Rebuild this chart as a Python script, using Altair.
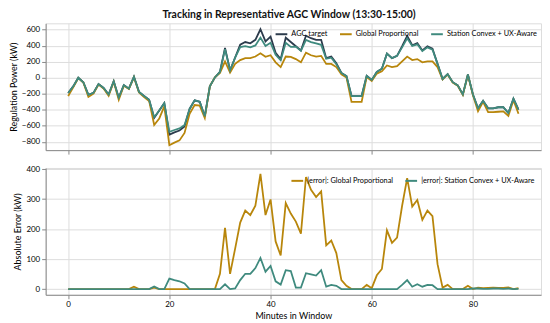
import altair as alt
import pandas as pd

minutes = list(range(90))

agc_target = [-190, -108, 0, -56, -215, -189, -80, -128, -209, -44,
              -249, -92, -136, 12, -177, -229, -277, -502, -410, -317,
              -711, -683, -659, -610, -390, -281, -301, -482, -108, 4,
              72, 373, 92, 253, 414, 446, 430, 474, 606, 454,
              514, 313, 233, 500, 446, 394, 341, 526, 494, 474,
              474, 245, 265, 181, 60, 20, -229, -229, -229, 24,
              -28, 72, 112, 301, 245, 273, 394, 522, 406, 434,
              341, 394, 365, 173, -16, 44, -56, -96, -209, 40,
              -209, -382, -289, -382, -382, -369, -369, -442, -261, -398]

global_prop = [-230, -120, -5, -60, -240, -200, -85, -135, -225, -50,
               -275, -100, -140, 5, -185, -240, -290, -590, -510, -357,
               -843, -811, -783, -690, -450, -341, -349, -502, -108, 4,
               60, 205, 64, 173, 221, 245, 245, 265, 305, 261,
               281, 193, 133, 265, 261, 233, 193, 313, 281, 265,
               273, 173, 173, 133, 44, 4, -301, -301, -301, 10,
               -40, 52, 80, 153, 133, 145, 205, 265, 221, 233,
               193, 205, 205, 133, -20, 40, -60, -100, -215, 35,
               -220, -418, -300, -430, -430, -425, -420, -478, -281, -450]

station_convex = [-190, -108, 0, -56, -215, -189, -80, -128, -209, -44,
                  -249, -92, -136, 12, -177, -229, -277, -493, -410, -317,
                  -676, -653, -633, -591, -390, -281, -301, -482, -108, 4,
                  72, 357, 92, 251, 384, 395, 379, 404, 502, 396,
                  437, 287, 218, 437, 386, 389, 336, 473, 445, 429,
                  411, 237, 251, 170, 60, 20, -229, -229, -229, 24,
                  -28, 72, 112, 301, 245, 273, 380, 492, 398, 418,
                  333, 380, 352, 173, -16, 44, -56, -96, -209, 40,
                  -209, -382, -289, -382, -382, -369, -369, -442, -261, -398]

err_global = [0, 0, 0, 0, 0, 0, 0, 0, 0, 0,
              0, 0, 0, 8, 0, 0, 0, 5, 0, 0,
              0, 0, 0, 0, 0, 0, 0, 0, 0, 0,
              51, 204, 51, 135, 222, 262, 247, 278, 384, 247,
              299, 159, 112, 287, 252, 225, 185, 374, 331, 307,
              326, 146, 162, 120, 30, 11, 0, 0, 0, 14,
              3, 46, 67, 196, 154, 172, 278, 370, 275, 297,
              231, 262, 243, 83, 5, 14, 0, 0, 0, 11,
              0, 5, 3, 4, 5, 4, 4, 6, 0, 3]

err_convex = [0, 0, 0, 0, 0, 0, 0, 0, 0, 0,
              0, 0, 0, 0, 0, 0, 0, 9, 0, 0,
              35, 30, 26, 19, 0, 0, 0, 0, 0, 0,
              0, 16, 0, 2, 30, 51, 51, 70, 104, 58,
              77, 26, 15, 63, 60, 5, 5, 53, 49, 45,
              63, 8, 14, 11, 0, 0, 0, 0, 0, 0,
              0, 0, 0, 0, 0, 0, 14, 30, 8, 16,
              8, 14, 13, 0, 0, 0, 0, 0, 0, 0,
              2, 2, 1, 1, 2, 2, 1, 2, 0, 1]

top_names = ["AGC target", "Global Proportional", "Station Convex + UX-Aware"]
top_colors = ["#2c3b4c", "#b8860b", "#3f8a7e"]
bot_names = ["|error|: Global Proportional", "|error|: Station Convex + UX-Aware"]
bot_colors = ["#b8860b", "#3f8a7e"]

x_ticks = [0, 20, 40, 60, 80]
top_y_ticks = [-800, -600, -400, -200, 0, 200, 400, 600]
bot_y_ticks = [0, 100, 200, 300, 400]

top_rows = []
for k, (name, vals) in enumerate(zip(top_names, [agc_target, global_prop, station_convex])):
    for m, v in zip(minutes, vals):
        top_rows.append({"minute": m, "value": v, "series": name, "order": k})
top_df = pd.DataFrame(top_rows)

bot_rows = []
for name, vals in zip(bot_names, [err_global, err_convex]):
    for m, v in zip(minutes, vals):
        bot_rows.append({"minute": m, "value": v, "series": name})
bot_df = pd.DataFrame(bot_rows)

FONT = "Lato"
W = 500
x_scale = alt.Scale(domain=[-4.45, 93.45], nice=False, zero=False)

def yaxis(vals, title):
    return alt.Axis(values=vals, title=title, tickSize=4, titleFontWeight="normal",
                    titleFontSize=9, labelFontSize=8, labelPadding=2, titlePadding=3)

def legend(off):
    return alt.Legend(title=None, orient="top-right", direction="horizontal",
                      offset=off, padding=0, symbolType="stroke", symbolStrokeWidth=2,
                      symbolSize=140, symbolOffset=0, labelOffset=3,
                      labelFontSize=7.4, columnPadding=8)

top = alt.Chart(top_df).mark_line(strokeWidth=1.8, clip=True).encode(
    x=alt.X("minute:Q", scale=x_scale,
            axis=alt.Axis(values=x_ticks, labels=False, title=None, tickSize=4)),
    y=alt.Y("value:Q", scale=alt.Scale(domain=[-905, 680], nice=False, zero=False),
            axis=yaxis(top_y_ticks, "Regulation Power (kW)")),
    color=alt.Color("series:N", scale=alt.Scale(domain=top_names, range=top_colors),
                    legend=legend(4)),
    detail="series:N",
    order=alt.Order("order:Q"),
).properties(width=W, height=128)

bottom = alt.Chart(bot_df).mark_line(strokeWidth=1.8, clip=True).encode(
    x=alt.X("minute:Q", scale=x_scale,
            axis=alt.Axis(values=x_ticks, title="Minutes in Window", tickSize=4,
                          titleFontWeight="normal", titleFontSize=9, labelFontSize=8,
                          labelPadding=2, titlePadding=3)),
    y=alt.Y("value:Q", scale=alt.Scale(domain=[-19, 404], nice=False, zero=False),
            axis=yaxis(bot_y_ticks, "Absolute Error (kW)")),
    color=alt.Color("series:N", scale=alt.Scale(domain=bot_names, range=bot_colors),
                    legend=legend(6)),
).properties(width=W, height=128)

chart = alt.vconcat(top, bottom, spacing=9).resolve_scale(color="independent").properties(
    title=alt.TitleParams("Tracking in Representative AGC Window (13:30-15:00)",
                          anchor="middle", fontSize=10.5, fontWeight="bold", font=FONT,
                          color="#111111", offset=2, dx=14),
    padding={"left": 0, "top": 1, "right": 0, "bottom": 0},
).configure_view(stroke="#888888", strokeWidth=1).configure_axis(
    labelFont=FONT, titleFont=FONT,
    labelColor="#333333", titleColor="#222222", gridColor="#eeeeee",
    domain=False, tickColor="#555555",
).configure_legend(labelFont=FONT, labelColor="#333333").configure(font=FONT)

chart.save("out.html", embed_options={"renderer": "svg", "actions": False})
